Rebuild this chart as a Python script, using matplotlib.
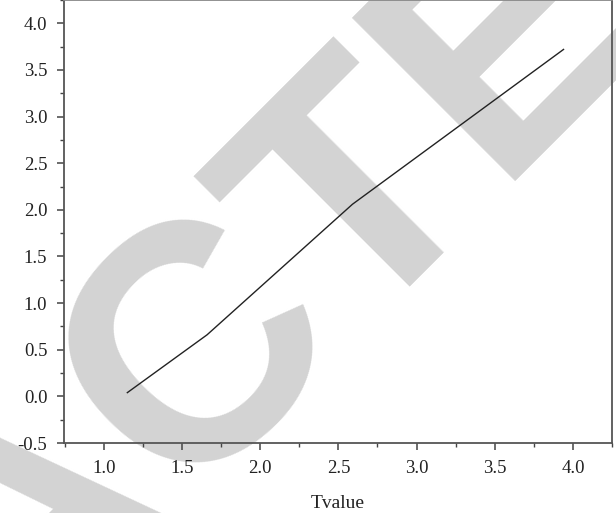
import matplotlib
matplotlib.use("Agg")
from matplotlib import pyplot as plt
from matplotlib.ticker import MultipleLocator

plt.rcParams["axes.unicode_minus"] = False

# values
tvalue = [1.15, 1.66, 2.59, 3.94]
curve = [0.04, 0.66, 2.06, 3.72]
xticks = [1.0, 1.5, 2.0, 2.5, 3.0, 3.5, 4.0]
yticks = [-0.5, 0.0, 0.5, 1.0, 1.5, 2.0, 2.5, 3.0, 3.5, 4.0]
stamp = "RETRACTED"

fig = plt.figure(figsize=(6.16, 5.13), dpi=100)
fig.patch.set_facecolor("white")
ax = fig.add_axes([64 / 616, 1 - 443 / 513, 548 / 616, 443 / 513])
ax.patch.set_alpha(0)

# grey stamp behind the plot
fig.text(30 / 616, 1 - 522 / 513, stamp, rotation=45, rotation_mode="anchor",
         ha="center", va="center", color="#d3d3d3", fontsize=242, fontweight="bold",
         family=["Liberation Sans Narrow", "Liberation Sans"], zorder=-5)

ax.plot(tvalue, curve, color="#222222", lw=1.0)

ax.set_xlim(0.745, 4.25)
ax.set_ylim(-0.5, 4.25)
ax.set_xticks(xticks)
ax.set_yticks(yticks)
ax.set_xticklabels([f"{v:.1f}" for v in xticks])
ax.set_yticklabels([f"{v:.1f}" for v in yticks])
ax.xaxis.set_minor_locator(MultipleLocator(0.25))
ax.yaxis.set_minor_locator(MultipleLocator(0.25))

serif = ["Liberation Serif", "DejaVu Serif"]
for lab in ax.get_xticklabels() + ax.get_yticklabels():
    lab.set_family(serif)
    lab.set_fontsize(13.5)
    lab.set_color("#222222")
ax.tick_params(which="major", direction="out", length=5, width=1.1, color="#444444")
ax.tick_params(which="minor", direction="out", length=3, width=1.0, color="#444444")
ax.tick_params(axis="y", which="major", pad=7)
ax.tick_params(axis="x", which="major", pad=7)

for s in ax.spines.values():
    s.set_color("#555555")
    s.set_linewidth(1.3)
ax.spines["top"].set_color("#888888")

ax.set_xlabel("Tvalue", family=serif, fontsize=14, color="#222222", labelpad=13)

fig.savefig("out.png", dpi=100)
